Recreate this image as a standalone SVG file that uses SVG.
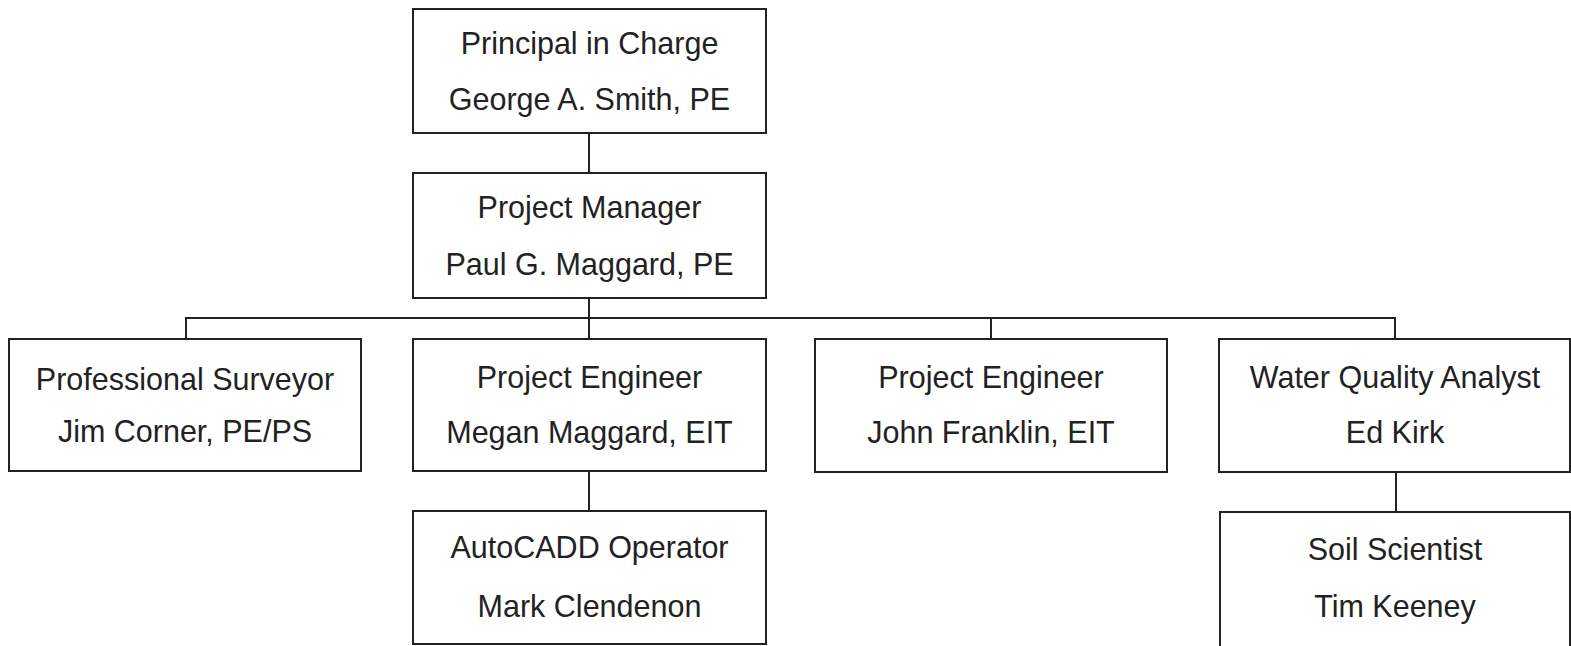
<svg xmlns="http://www.w3.org/2000/svg" width="1571" height="646" viewBox="0 0 1571 646">
<style>
.box{fill:#fff;stroke:#222;stroke-width:2}
.t{font-family:"Liberation Sans",Arial,sans-serif;font-size:30.5px;fill:#222;text-anchor:middle}
.c{stroke:#222;stroke-width:2;fill:none}
</style>
<rect width="1571" height="646" fill="#fff"/>
<g id="connectors">
<line class="c" x1="589" y1="133" x2="589" y2="173"/>
<line class="c" x1="589" y1="298" x2="589" y2="339"/>
<polyline class="c" points="186,339 186,318 1395,318 1395,339"/>
<line class="c" x1="991" y1="318" x2="991" y2="339"/>
<line class="c" x1="589" y1="471" x2="589" y2="511"/>
<line class="c" x1="1396" y1="472" x2="1396" y2="512"/>
</g>
<g id="principal"><rect class="box" x="413" y="9" width="353" height="124"/><text class="t" x="589.5" y="54">Principal in Charge</text><text class="t" x="589.5" y="110">George A. Smith, PE</text></g>
<g id="manager"><rect class="box" x="413" y="173" width="353" height="125"/><text class="t" x="589.5" y="218">Project Manager</text><text class="t" x="589.5" y="275">Paul G. Maggard, PE</text></g>
<g id="surveyor"><rect class="box" x="9" y="339" width="352" height="132"/><text class="t" x="185" y="390">Professional Surveyor</text><text class="t" x="185" y="442">Jim Corner, PE/PS</text></g>
<g id="engineer1"><rect class="box" x="413" y="339" width="353" height="132"/><text class="t" x="589.5" y="388">Project Engineer</text><text class="t" x="589.5" y="443">Megan Maggard, EIT</text></g>
<g id="engineer2"><rect class="box" x="815" y="339" width="352" height="133"/><text class="t" x="991" y="388">Project Engineer</text><text class="t" x="991" y="443">John Franklin, EIT</text></g>
<g id="water"><rect class="box" x="1219" y="339" width="351" height="133"/><text class="t" x="1395" y="388">Water Quality Analyst</text><text class="t" x="1395" y="443">Ed Kirk</text></g>
<g id="autocadd"><rect class="box" x="413" y="511" width="353" height="133"/><text class="t" x="589.5" y="558">AutoCADD Operator</text><text class="t" x="589.5" y="617">Mark Clendenon</text></g>
<g id="soil"><rect class="box" x="1220" y="512" width="350" height="140"/><text class="t" x="1395" y="560">Soil Scientist</text><text class="t" x="1395" y="617">Tim Keeney</text></g>
</svg>
